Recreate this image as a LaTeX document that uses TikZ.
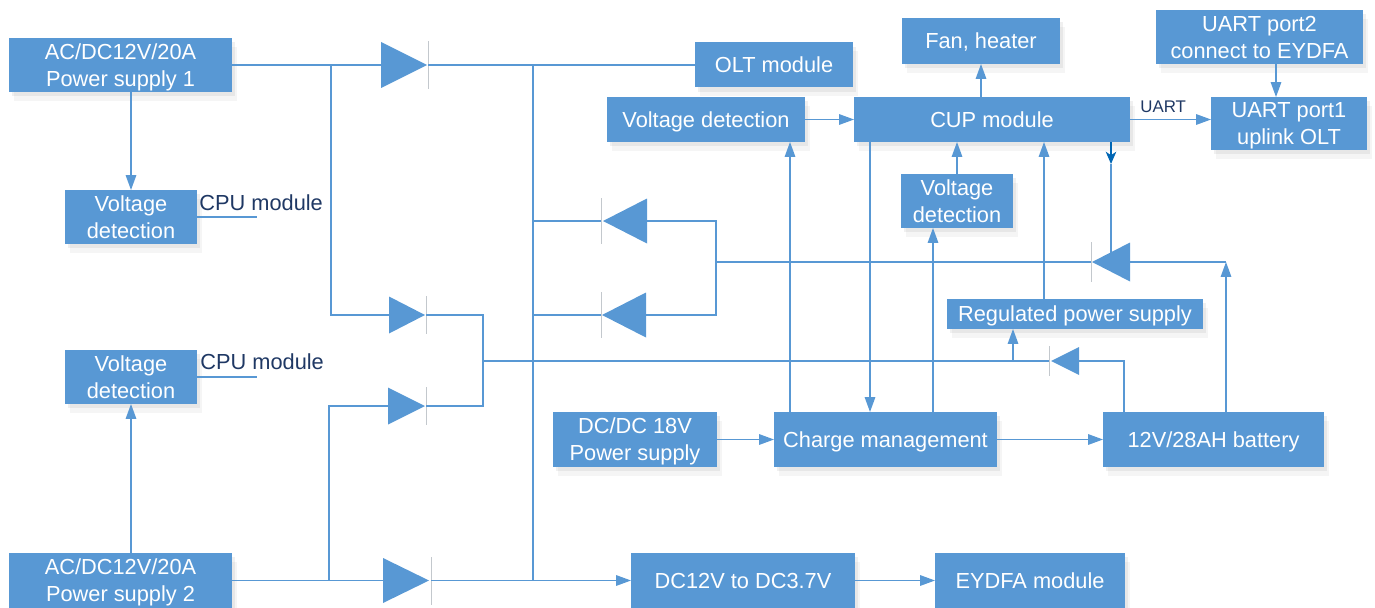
\documentclass[tikz,border=0pt]{standalone}
\usepackage{fontspec}
\setmainfont{Liberation Sans}
\usetikzlibrary{arrows.meta}
\usetikzlibrary{positioning}
\usetikzlibrary{shapes.geometric}
\usetikzlibrary{shadows}
\definecolor{blockfill} {RGB}{88,152,212}
\definecolor{labelblue} {RGB}{31,56,100}
\definecolor{barline}   {RGB}{195,200,205}
\definecolor{tipblue}   {RGB}{0,102,180}
\tikzset{block node/.style 2 args={
    rectangle, fill=blockfill, inner sep=0pt, outer sep=0pt,
    minimum width=#1*0.02cm, minimum height=#2*0.02cm,
    text=white, align=center, text depth=0pt,
    font=\fontsize{12.4}{15.4}\selectfont,
    drop shadow={shadow xshift=3pt, shadow yshift=-5pt, opacity=0.04, fill=black},
    drop shadow={shadow xshift=1.5pt, shadow yshift=-2.5pt, opacity=0.06, fill=black}
}}
\tikzset{diode right/.style 2 args={
    isosceles triangle, isosceles triangle stretches, shape border rotate=0,
    fill=blockfill, inner sep=0pt, outer sep=0pt, anchor=apex,
    minimum width=#1*0.02cm, minimum height=#2*0.02cm
}}
\tikzset{diode left/.style 2 args={
    isosceles triangle, isosceles triangle stretches, shape border rotate=180,
    fill=blockfill, inner sep=0pt, outer sep=0pt, anchor=apex,
    minimum width=#1*0.02cm, minimum height=#2*0.02cm
}}
\tikzset{diode bar/.style={
    rectangle, fill=barline, inner sep=0pt, outer sep=0pt,
    minimum width=0.5pt, minimum height=#1*0.02cm
}}
\tikzset{side label/.style={
    text=labelblue, inner sep=0pt, anchor=west,
    font=\fontsize{12.4}{14}\selectfont
}}
\tikzset{wire/.style={color=blockfill, line width=0.8pt}}
\tikzset{arrow wire/.style={wire, -{Stealth[length=8.5pt, width=6pt, inset=0pt]}}}

\begin{document}
\begin{tikzpicture}[x=0.02cm, y=-0.02cm]
    \useasboundingbox (0,0) rectangle (1375,608);

    % left column
    \node (ps1)     [block node={223}{54}]   at(120.5,65)  {AC/DC12V/20A\\Power supply 1};
    \node (vd1)     [block node={132}{54}]   at(131,217)   {Voltage\\detection};
    \node (vd4)     [block node={132}{54}]   at(131,377)   {Voltage\\detection};
    \node (ps2)     [block node={223}{55}]   at(120.5,580.5) {AC/DC12V/20A\\Power supply 2};
    \node (cpu1)    [side label]             at(199,203)   {CPU module};
    \node (cpu2)    [side label]             at(200,362)   {CPU module};

    % top row
    \node (olt)     [block node={158}{45}]   at(774,65)    {OLT module};
    \node (vd2)     [block node={198}{45}]   at(706,119.5) {Voltage detection};
    \node (cup)     [block node={276}{45}]   at(992,119.5) {CUP module};
    \node (fan)     [block node={158}{46}]   at(981,41)    {Fan, heater};
    \node (port2)   [block node={207}{54}]   at(1259.5,37) {UART port2\\connect to EYDFA};
    \node (port1)   [block node={156}{53}]   at(1289,123.5) {UART port1\\uplink OLT};
    \node (uart)    [side label, font=\fontsize{9.6}{12}\selectfont] at(1140,107) {UART};
    \node (vd3)     [block node={112}{54}]   at(957,201)   {Voltage\\detection};
    \node (reg)     [block node={256}{30}]   at(1075,314)  {Regulated power supply};

    % lower blocks
    \node (dcdc)    [block node={164}{55}]   at(635,439.5) {DC/DC 18V\\Power supply};
    \node (charge)  [block node={223}{55}]   at(885.5,439.5) {Charge management};
    \node (battery) [block node={221}{55}]   at(1213.5,439.5) {12V/28AH battery};
    \node (conv)    [block node={224}{55}]   at(743,580.5) {DC12V to DC3.7V};
    \node (eydfa)   [block node={190}{55}]   at(1030,580.5) {EYDFA module};

    % diodes
    \node (d1)      [diode right={46}{46}]   at(427,65)    {};
    \node (b1)      [diode bar={48}]         at(428,65)    {};
    \node (d2)      [diode right={37}{36}]   at(425,315)   {};
    \node (b2)      [diode bar={38}]         at(426,315)   {};
    \node (d3)      [diode right={37}{37}]   at(425,406)   {};
    \node (b3)      [diode bar={38}]         at(426,406)   {};
    \node (d4)      [diode right={45}{46}]   at(429,580.5) {};
    \node (b4)      [diode bar={48}]         at(431,580.5) {};
    \node (d5)      [diode left={45}{44}]    at(603,221)   {};
    \node (b5)      [diode bar={46}]         at(601,221)   {};
    \node (d6)      [diode left={45}{44}]    at(602,315)   {};
    \node (b6)      [diode bar={46}]         at(601,315)   {};
    \node (d7)      [diode left={39}{38}]    at(1092,262)  {};
    \node (b7)      [diode bar={40}]         at(1091,262)  {};
    \node (d8)      [diode left={28}{28}]    at(1051,361)  {};
    \node (b8)      [diode bar={30}]         at(1049,361)  {};

    % junctions
    \coordinate (tapA)   at(331,65);
    \coordinate (tapB)   at(533,65);
    \coordinate (tapC)   at(533,580.5);
    \coordinate (tapD)   at(329,580.5);
    \coordinate (railL)  at(483,361);
    \coordinate (railR)  at(716,262);
    \coordinate (tapReg) at(1013,361);
    \coordinate (batA)   at(1124,412);
    \coordinate (batB)   at(1226,262);
    \coordinate (upCup)  at(1111,262);
    \coordinate (midCup) at(1111,164);
    \coordinate (stub1)  at(257,217);
    \coordinate (stub2)  at(257,377);
    \coordinate (upFan)  at(981,97);
    \coordinate (upPort) at(1276,64);
    \coordinate (chgA)   at(790,412);
    \coordinate (chgB)   at(870,412);
    \coordinate (chgC)   at(933,412);
    \coordinate (regUp)  at(1044,299);

    % edges
    \draw [wire] (ps1) -- (tapA) -- (d1.lower side);
    \draw [wire] (tapA) |- (d2.lower side);
    \draw [wire] (b1) -- (olt);
    \draw [wire] (tapB) -- (tapC);
    \draw [wire] (b2) -| (railL) |- (b3);
    \draw [wire] (ps2) -- (d4.lower side);
    \draw [wire] (tapD) |- (d3.lower side);
    \draw [wire] (b5) -- (b5 -| tapB);
    \draw [wire] (b6) -- (b6 -| tapB);
    \draw [wire] (d5.lower side) -| (railR) |- (d6.lower side);
    \draw [wire] (railR) -- (b7);
    \draw [wire] (railL) -- (b8);
    \draw [wire] (d7.lower side) -- (batB);
    \draw [wire] (d8.lower side) -| (batA);
    \draw [wire] (vd1) -- (stub1);
    \draw [wire] (vd4) -- (stub2);
    \draw [wire] (upCup) -- (midCup);
    \path [arrow wire]
      (ps1.south -| vd1) edge (vd1)
      (ps2.north -| vd4) edge (vd4)
      (b4) edge (conv)
      (conv) edge (eydfa)
      (vd2) edge (cup)
      (cup.east) edge (cup.east -| port1.west)
      (upFan) edge (fan)
      (upPort) edge (upPort |- port1.north)
      (vd3) edge (vd3 |- cup.south)
      (regUp) edge (regUp |- cup.south)
      (chgA) edge (chgA |- vd2.south)
      (chgB |- cup.south) edge (chgB)
      (chgC) edge (chgC |- vd3.south)
      (tapReg) edge (tapReg |- reg.south)
      (dcdc) edge (charge)
      (charge) edge (battery)
      (battery.north -| batB) edge (batB)
      ;
    \draw [color=tipblue, line width=0.8pt, -{Stealth[length=7pt, width=6pt, inset=2pt]}]
      (midCup |- cup.south) -- (midCup);
\end{tikzpicture}
\end{document}
